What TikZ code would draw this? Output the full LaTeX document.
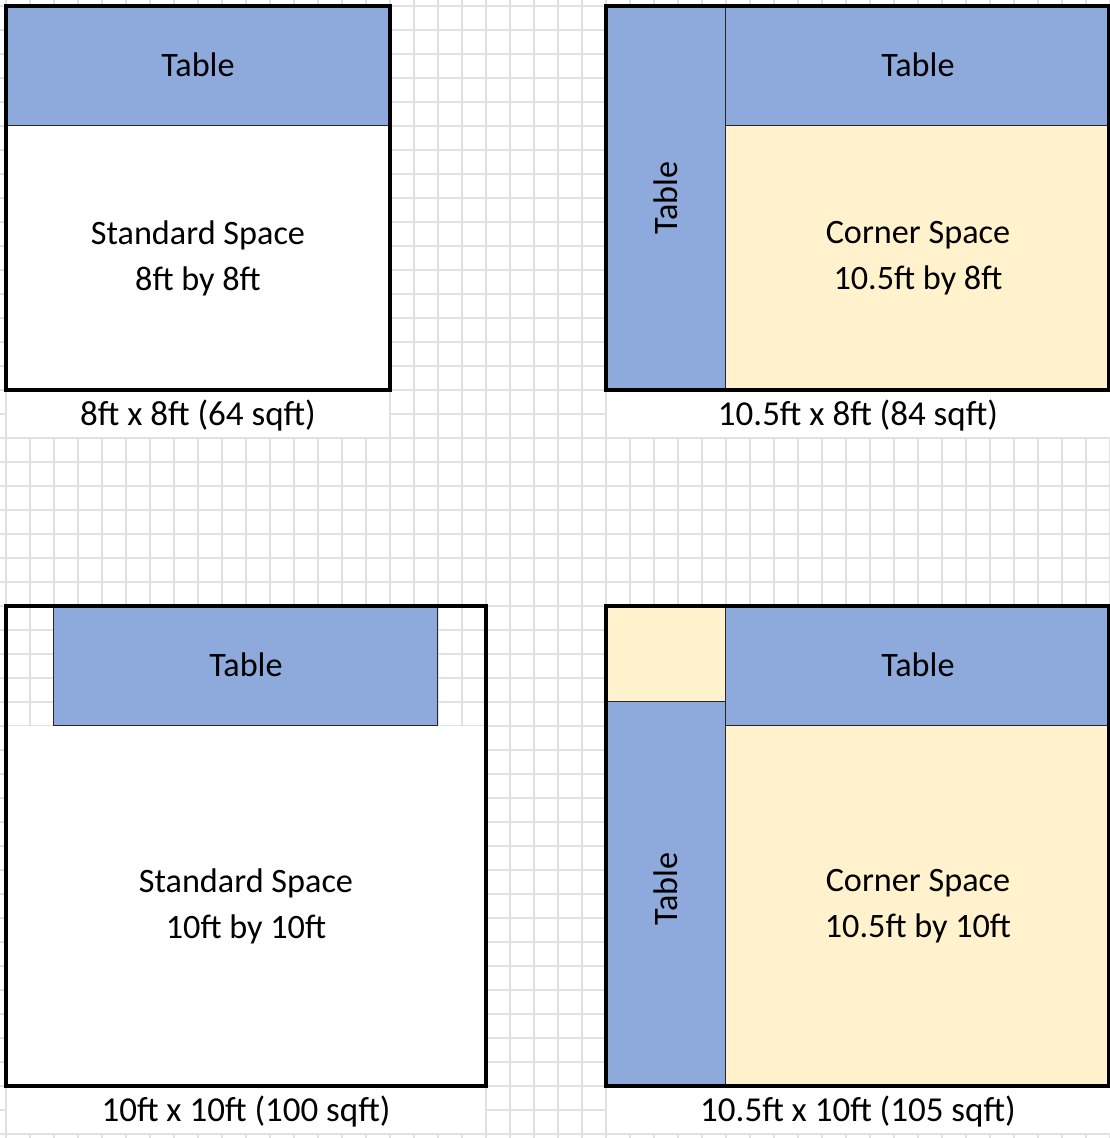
\documentclass[tikz,border=0pt]{standalone}
\usepackage{fontspec}
\setmainfont{Carlito}
\usetikzlibrary{positioning}
\definecolor{tableblue}{HTML}{8EA9DB}
\definecolor{cornerbeige}{HTML}{FFF2CC}
\definecolor{gridgray}{HTML}{E1E1E1}

\begin{document}
\begin{tikzpicture}[x=12pt,y=-12pt]
      \tikzstyle{gridline} = [draw=gridgray, line width=0.8pt]
      \tikzstyle{tablecell} = [fill=tableblue, draw=black!85, line width=0.5pt]
      \tikzstyle{cornercell} = [fill=cornerbeige, draw=black!85, line width=0.5pt]
      \tikzstyle{plaincell} = [fill=white, draw=black!85, line width=0.5pt]
      \tikzstyle{outline} = [draw=black, line width=1.6pt]
      \tikzstyle{txt} = [font=\fontsize{17.1}{23}\selectfont, inner sep=0pt, align=center]
      \tikzstyle{sizetxt} = [font=\fontsize{17.5}{23}\selectfont, inner sep=0pt]

      \useasboundingbox (-0.25,-0.25) rectangle (46,47.17);
      \fill[white] (-0.25,-0.25) rectangle (46,47.17);

      % sheet grid
      \foreach \i in {0,...,46} \draw[gridline] (\i,-0.25) -- (\i,47.17);
      \foreach \j in {0,...,47} \draw[gridline] (-0.25,\j) -- (46,\j);

      % merged label cells
      \fill[white] (0.03,16.03) rectangle (15.97,17.97);
      \fill[white] (25.03,16.03) rectangle (46,17.97);
      \fill[white] (0.03,45.03) rectangle (19.97,46.97);
      \fill[white] (25.03,45.03) rectangle (46,46.97);

      % standard 8x8
      \draw[tablecell] (0,0) rectangle (16,5);
      \draw[plaincell] (0,5) rectangle (16,16);
      \draw[outline] (0,0) rectangle (16,16);

      % corner 10.5x8
      \draw[tablecell] (25,0) rectangle (30,16);
      \draw[tablecell] (30,0) rectangle (45.93,5);
      \draw[cornercell] (30,5) rectangle (45.93,16);
      \draw[outline] (25,0) rectangle (45.93,16);

      % standard 10x10
      \fill[white] (0,30) rectangle (20,45);
      \draw[tablecell] (2,25) rectangle (18,30);
      \draw[outline] (0,25) rectangle (20,45);

      % corner 10.5x10
      \draw[cornercell] (25,25) rectangle (30,29);
      \draw[tablecell] (25,29) rectangle (30,45);
      \draw[tablecell] (30,25) rectangle (45.93,30);
      \draw[cornercell] (30,30) rectangle (45.93,45);
      \draw[outline] (25,25) rectangle (45.93,45);

      \node[txt] (tl-table) at (8,2.45) {Table};
      \node[txt] (tl-space) at (8,10.5) {Standard Space\\8ft by 8ft};
      \node[sizetxt] (tl-size) at (8,17.05) {8ft x 8ft (64 sqft)};

      \node[txt, rotate=90] (tr-side) at (27.5,8) {Table};
      \node[txt] (tr-table) at (38,2.45) {Table};
      \node[txt] (tr-space) at (38,10.5) {Corner Space\\10.5ft by 8ft};
      \node[sizetxt] (tr-size) at (35.5,17.05) {10.5ft x 8ft (84 sqft)};

      \node[txt] (bl-table) at (10,27.45) {Table};
      \node[txt] (bl-space) at (10,37.5) {Standard Space\\10ft by 10ft};
      \node[sizetxt] (bl-size) at (10,46.05) {10ft x 10ft (100 sqft)};

      \node[txt, rotate=90] (br-side) at (27.5,36.8) {Table};
      \node[txt] (br-table) at (38,27.45) {Table};
      \node[txt] (br-space) at (38,37.5) {Corner Space\\10.5ft by 10ft};
      \node[sizetxt] (br-size) at (35.5,46.05) {10.5ft x 10ft (105 sqft)};
\end{tikzpicture}
\end{document}
